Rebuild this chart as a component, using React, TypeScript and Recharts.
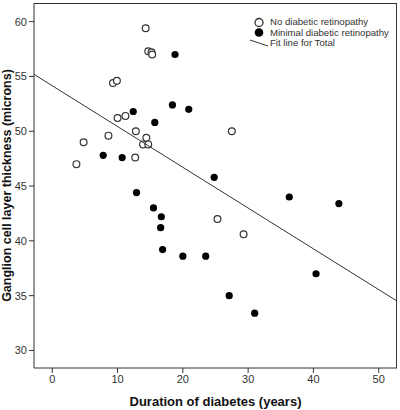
import { FC } from "react";
import {
    Label,
    Legend,
    Scatter,
    ScatterChart,
    XAxis,
    YAxis,
} from "recharts";

interface IPoint {
    x: number
    y: number
}

// values
const noRetinopathy: IPoint[] = [
    { x: 14.3, y: 59.4 }, { x: 14.7, y: 57.3 }, { x: 15.2, y: 57.2 }, { x: 15.3, y: 57.0 },
    { x: 9.3, y: 54.4 }, { x: 9.9, y: 54.6 }, { x: 10.0, y: 51.2 }, { x: 11.2, y: 51.4 },
    { x: 12.8, y: 50.0 }, { x: 8.6, y: 49.6 }, { x: 4.8, y: 49.0 }, { x: 3.7, y: 47.0 },
    { x: 12.7, y: 47.6 }, { x: 14.4, y: 49.4 }, { x: 13.9, y: 48.8 }, { x: 14.7, y: 48.8 },
    { x: 27.5, y: 50.0 }, { x: 25.3, y: 42.0 }, { x: 29.3, y: 40.6 },
]

const minimalRetinopathy: IPoint[] = [
    { x: 18.8, y: 57.0 }, { x: 12.4, y: 51.8 }, { x: 18.4, y: 52.4 }, { x: 20.9, y: 52.0 },
    { x: 15.7, y: 50.8 }, { x: 7.8, y: 47.8 }, { x: 10.7, y: 47.6 }, { x: 12.9, y: 44.4 },
    { x: 15.5, y: 43.0 }, { x: 16.7, y: 42.2 }, { x: 16.6, y: 41.2 }, { x: 16.9, y: 39.2 },
    { x: 20.0, y: 38.6 }, { x: 23.5, y: 38.6 }, { x: 24.8, y: 45.8 }, { x: 36.3, y: 44.0 },
    { x: 43.9, y: 43.4 }, { x: 40.4, y: 37.0 }, { x: 27.1, y: 35.0 }, { x: 31.0, y: 33.4 },
]

const X_DOMAIN: [number, number] = [-2.8, 52.8]
const Y_DOMAIN: [number, number] = [28.4, 61.7]
const X_TICKS = [0, 10, 20, 30, 40, 50]
const Y_TICKS = [30, 35, 40, 45, 50, 55, 60]

// fit line for Total
const FIT_INTERCEPT = 54.15
const FIT_SLOPE = -0.372
const fitLine: IPoint[] = X_DOMAIN.map(x => ({ x, y: FIT_INTERCEPT + FIT_SLOPE * x }))

const LEGEND_ORDER = ['No diabetic retinopathy', 'Minimal diabetic retinopathy', 'Fit line for Total']

// layout
const WIDTH = 400
const HEIGHT = 410
const MARGIN = { top: 3, right: 3, left: 0, bottom: 0 }
const Y_AXIS_WIDTH = 34
const X_AXIS_HEIGHT = 42

const FONT = '"Liberation Sans", Arial, sans-serif'
const INK = '#333'

const LegendIcon: FC<{ name: string }> = ({ name }) => (
    <svg width={20} height={11} style={{ display: 'block', flex: 'none' }}>
        {name === LEGEND_ORDER[0] && <circle cx={10} cy={5.5} r={4} fill="#fff" stroke={INK} strokeWidth={1.3} />}
        {name === LEGEND_ORDER[1] && <circle cx={10} cy={5.5} r={4.3} fill="#000" />}
        {name === LEGEND_ORDER[2] && <line x1={1} y1={2} x2={19} y2={8} stroke={INK} strokeWidth={1} />}
    </svg>
)

const renderLegend = (props: any) => {
    const names: string[] = (props.payload ?? []).map((e: any) => e.value)
    const sorted = LEGEND_ORDER.filter(n => names.includes(n))
    return (
        <div style={{ fontFamily: FONT, fontSize: 9.6, color: INK, lineHeight: '10.5px', whiteSpace: 'nowrap' }}>
            {sorted.map(name => (
                <div key={name} style={{ display: 'flex', alignItems: 'center', height: 10.5 }}>
                    <LegendIcon name={name} />
                    <span style={{ marginLeft: 1 }}>{name}</span>
                </div>
            ))}
        </div>
    )
}

const openDot = (p: any) => <circle cx={p.cx} cy={p.cy} r={3.4} fill="#fff" stroke={INK} strokeWidth={1.2} />
const filledDot = (p: any) => <circle cx={p.cx} cy={p.cy} r={3.6} fill="#000" />

export default function App() {
    return (
        <div style={{ position: 'absolute', top: 0, left: 0, width: WIDTH, height: HEIGHT }}>
            <ScatterChart width={WIDTH} height={HEIGHT} margin={MARGIN}>
                <XAxis
                    type="number"
                    dataKey="x"
                    domain={X_DOMAIN}
                    ticks={X_TICKS}
                    allowDataOverflow
                    height={X_AXIS_HEIGHT}
                    tickSize={5}
                    stroke={INK}
                    tick={{ fill: INK, fontSize: 11, fontFamily: FONT }}
                >
                    <Label
                        value="Duration of diabetes (years)"
                        position="insideBottom"
                        offset={4}
                        style={{ fontFamily: FONT, fontSize: 13, fontWeight: 'bold', fill: '#111' }}
                    />
                </XAxis>
                <YAxis
                    type="number"
                    dataKey="y"
                    domain={Y_DOMAIN}
                    ticks={Y_TICKS}
                    allowDataOverflow
                    width={Y_AXIS_WIDTH}
                    tickSize={5}
                    stroke={INK}
                    tick={{ fill: INK, fontSize: 11, fontFamily: FONT }}
                >
                    <Label
                        value="Ganglion cell layer thickness (microns)"
                        angle={-90}
                        position="insideLeft"
                        offset={7}
                        style={{ textAnchor: 'middle', fontFamily: FONT, fontSize: 12.5, fontWeight: 'bold', fill: '#111' }}
                    />
                </YAxis>
                <Scatter name="No diabetic retinopathy" data={noRetinopathy} shape={openDot} isAnimationActive={false} />
                <Scatter name="Minimal diabetic retinopathy" data={minimalRetinopathy} shape={filledDot} isAnimationActive={false} />
                <Scatter
                    name="Fit line for Total"
                    data={fitLine}
                    line={{ stroke: INK, strokeWidth: 1 }}
                    shape={() => <g />}
                    isAnimationActive={false}
                />
                <Legend
                    layout="horizontal"
                    verticalAlign="middle"
                    align="center"
                    content={renderLegend}
                    wrapperStyle={{ top: 17, left: 249, width: 145 }}
                />
            </ScatterChart>
            {/* top and right edges of the plot box */}
            <div
                style={{
                    position: 'absolute',
                    pointerEvents: 'none',
                    left: MARGIN.left + Y_AXIS_WIDTH,
                    top: MARGIN.top - 0.5,
                    width: WIDTH - MARGIN.left - MARGIN.right - Y_AXIS_WIDTH - 0.5,
                    height: HEIGHT - MARGIN.top - MARGIN.bottom - X_AXIS_HEIGHT,
                    borderTop: `1px solid ${INK}`,
                    borderRight: `1px solid ${INK}`,
                    boxSizing: 'border-box',
                }}
            />
        </div>
    )
}
